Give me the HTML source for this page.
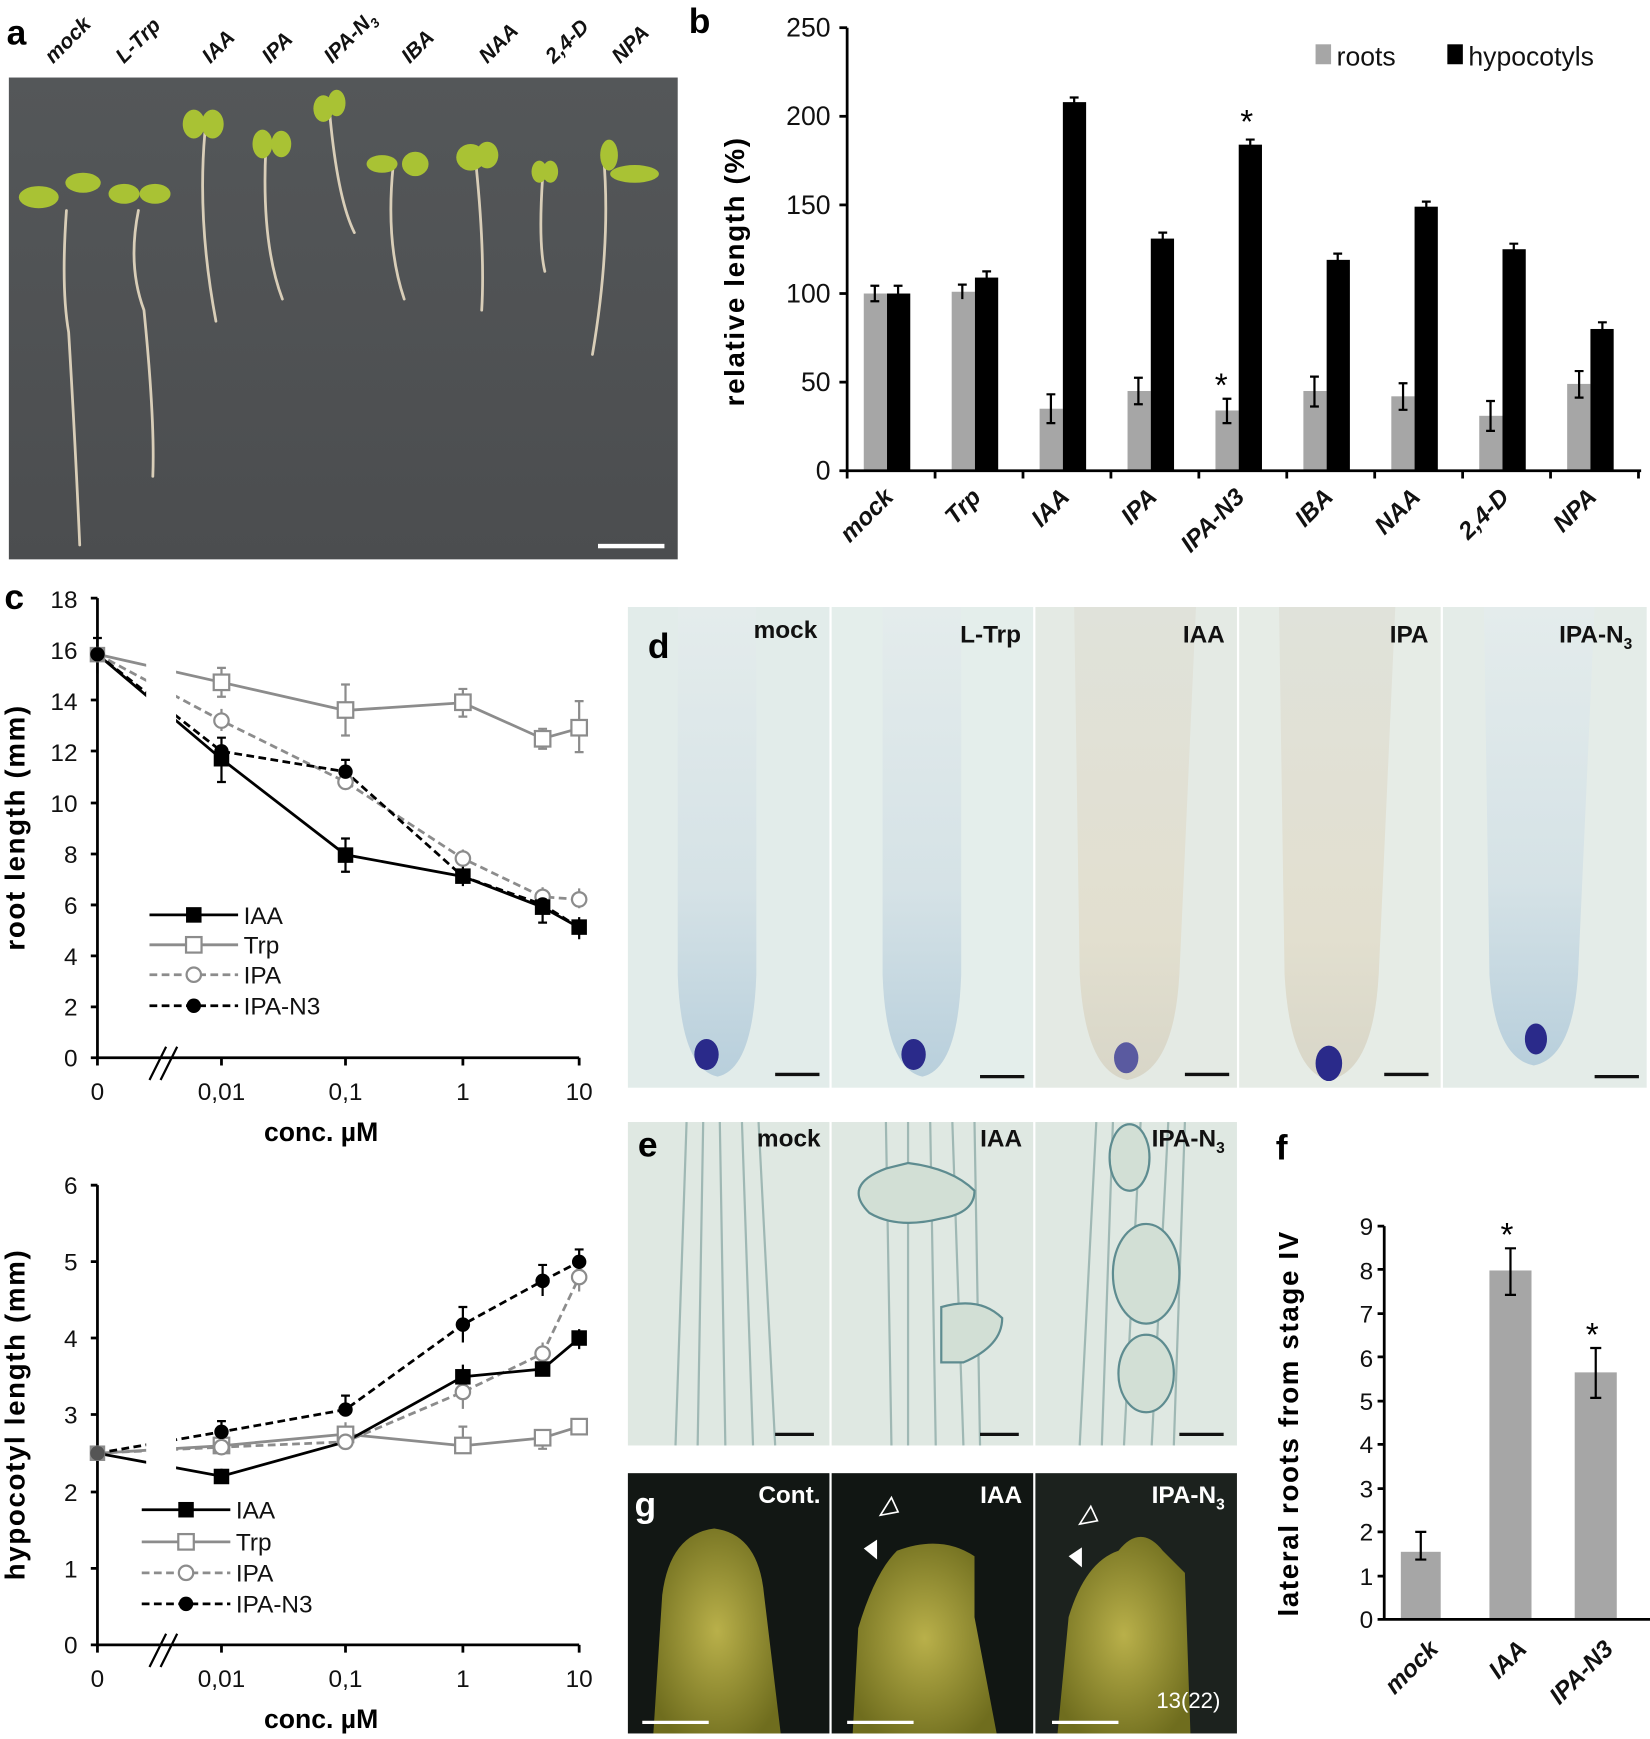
<!DOCTYPE html>
<html><head><meta charset="utf-8"><style>
html,body{margin:0;padding:0;background:#fff;}
svg{display:block;}
text{font-family:"Liberation Sans",Arial,sans-serif;}
.b{font-weight:bold;}
</style></head><body>
<svg width="1650" height="1739" viewBox="0 0 1490 1570" preserveAspectRatio="none" xmlns="http://www.w3.org/2000/svg">
<defs>
<linearGradient id="plate" x1="0" y1="0" x2="0" y2="1"><stop offset="0" stop-color="#545759"/><stop offset="1" stop-color="#4b4d4f"/></linearGradient>
<linearGradient id="rootd" x1="0" y1="0" x2="0" y2="1"><stop offset="0" stop-color="#e4ecec"/><stop offset="0.6" stop-color="#d5e2e6"/><stop offset="1" stop-color="#b8cfdc"/></linearGradient>
<linearGradient id="roott" x1="0" y1="0" x2="0" y2="1"><stop offset="0" stop-color="#e0e2da"/><stop offset="0.7" stop-color="#e2dfcf"/><stop offset="1" stop-color="#d8d6c8"/></linearGradient>
<radialGradient id="tipg" cx="0.5" cy="0.5" r="0.6"><stop offset="0" stop-color="#b9b04a"/><stop offset="1" stop-color="#6f6d1e"/></radialGradient>
</defs>

<!-- PANEL A -->
<text x="6" y="40" class="b" font-size="32">a</text>
<g class="b" font-size="19" fill="#111" font-style="italic">
<text transform="translate(48,58) rotate(-45)">mock</text>
<text transform="translate(112,58) rotate(-45)">L-Trp</text>
<text transform="translate(190,58) rotate(-45)">IAA</text>
<text transform="translate(244,58) rotate(-45)">IPA</text>
<text transform="translate(300,58) rotate(-45)">IPA-N<tspan font-size="12" dy="5">3</tspan></text>
<text transform="translate(370,58) rotate(-45)">IBA</text>
<text transform="translate(440,58) rotate(-45)">NAA</text>
<text transform="translate(500,58) rotate(-45)">2,4-D</text>
<text transform="translate(560,58) rotate(-45)">NPA</text>
</g>
<rect x="8" y="70" width="604" height="435" fill="url(#plate)"/>
<g stroke="#d9ceb8" fill="none" stroke-linecap="round">
<path d="M60 190 Q55 260 62 300 Q68 400 72 492" stroke-width="2.5"/>
<path d="M125 190 Q115 240 130 280 Q140 380 138 430" stroke-width="2.5"/>
<path d="M185 120 Q178 200 195 290" stroke-width="2.5"/>
<path d="M240 135 Q236 220 255 270" stroke-width="2.5"/>
<path d="M298 105 Q305 180 320 210" stroke-width="2.5"/>
<path d="M355 150 Q348 220 365 270" stroke-width="2.5"/>
<path d="M430 150 Q438 230 435 280" stroke-width="2.5"/>
<path d="M490 160 Q486 220 492 245" stroke-width="2.5"/>
<path d="M545 140 Q552 220 535 320" stroke-width="2.5"/>
</g>
<g fill="#a9c234">
<ellipse cx="35" cy="178" rx="18" ry="10"/><ellipse cx="75" cy="165" rx="16" ry="9"/>
<ellipse cx="112" cy="175" rx="14" ry="9"/><ellipse cx="140" cy="175" rx="14" ry="9"/>
<ellipse cx="175" cy="112" rx="10" ry="13"/><ellipse cx="192" cy="112" rx="10" ry="13"/>
<ellipse cx="237" cy="130" rx="9" ry="13"/><ellipse cx="254" cy="130" rx="9" ry="12"/>
<ellipse cx="292" cy="98" rx="9" ry="12"/><ellipse cx="304" cy="93" rx="8" ry="12"/>
<ellipse cx="345" cy="148" rx="14" ry="8"/><ellipse cx="375" cy="148" rx="12" ry="11"/>
<ellipse cx="425" cy="142" rx="13" ry="12"/><ellipse cx="440" cy="140" rx="10" ry="12"/>
<ellipse cx="487" cy="155" rx="7" ry="10"/><ellipse cx="497" cy="155" rx="7" ry="10"/>
<ellipse cx="573" cy="157" rx="22" ry="8"/><ellipse cx="550" cy="140" rx="8" ry="14"/>
</g>
<rect x="540" y="491" width="60" height="4" fill="#fff"/>

<!-- PANEL B -->
<text x="622" y="30" class="b" font-size="32">b</text>
<g font-size="24" fill="#111" text-anchor="end">
<text x="750" y="433">0</text><text x="750" y="353">50</text><text x="750" y="273">100</text>
<text x="750" y="193">150</text><text x="750" y="113">200</text><text x="750" y="33">250</text>
</g>
<text transform="translate(672,245) rotate(-90)" text-anchor="middle" class="b" font-size="25" letter-spacing="1.5">relative length (%)</text>
<g fill="#a6a6a6">
<rect x="780" y="265" width="21" height="160"/><rect x="859.4" y="263.4" width="21" height="161.6"/>
<rect x="938.8" y="369" width="21" height="56"/><rect x="1018.2" y="353" width="21" height="72"/>
<rect x="1097.6" y="370.6" width="21" height="54.4"/><rect x="1177" y="353" width="21" height="72"/>
<rect x="1256.4" y="357.8" width="21" height="67.2"/><rect x="1335.8" y="375.4" width="21" height="49.6"/>
<rect x="1415.2" y="346.6" width="21" height="78.4"/>
</g>
<g fill="#000">
<rect x="801" y="265" width="21" height="160"/><rect x="880.4" y="250.6" width="21" height="174.4"/>
<rect x="959.8" y="92.2" width="21" height="332.8"/><rect x="1039.2" y="215.4" width="21" height="209.6"/>
<rect x="1118.6" y="130.6" width="21" height="294.4"/><rect x="1198" y="234.6" width="21" height="190.4"/>
<rect x="1277.4" y="186.6" width="21" height="238.4"/><rect x="1356.8" y="225" width="21" height="200"/>
<rect x="1436.2" y="297" width="21" height="128"/>
</g>
<g stroke="#000" stroke-width="2" fill="none">
<path d="M790 258v14M786 258h8M786 272h8"/><path d="M811 258v14M807 258h8M807 272h8"/>
<path d="M869 257v13M865 257h8"/><path d="M891 245v8M887 245h8"/>
<path d="M949 356v26M945 356h8M945 382h8"/><path d="M970 88v6M966 88h8"/>
<path d="M1028 341v24M1024 341h8M1024 365h8"/><path d="M1050 210v8M1046 210h8"/>
<path d="M1108 360v22M1104 360h8M1104 382h8"/><path d="M1129 126v6M1125 126h8"/>
<path d="M1187 340v27M1183 340h8M1183 367h8"/><path d="M1208 229v8M1204 229h8"/>
<path d="M1267 346v24M1263 346h8M1263 370h8"/><path d="M1288 182v8M1284 182h8"/>
<path d="M1346 362v27M1342 362h8M1342 389h8"/><path d="M1367 220v8M1363 220h8"/>
<path d="M1426 335v24M1422 335h8M1422 359h8"/><path d="M1447 291v8M1443 291h8"/>
</g>
<g stroke="#000" stroke-width="2.5">
<line x1="765" y1="25" x2="765" y2="432"/><line x1="758" y1="25" x2="765" y2="25"/>
<line x1="758" y1="105" x2="765" y2="105"/><line x1="758" y1="185" x2="765" y2="185"/>
<line x1="758" y1="265" x2="765" y2="265"/><line x1="758" y1="345" x2="765" y2="345"/>
<line x1="758" y1="425" x2="1482" y2="425"/>
<path d="M844.4 425v7M923.8 425v7M1003.2 425v7M1082.6 425v7M1162 425v7M1241.4 425v7M1320.8 425v7M1400.2 425v7M1479.6 425v7"/>
</g>
<text x="1097" y="358" font-size="30" fill="#000">*</text>
<text x="1120" y="120" font-size="30" fill="#000">*</text>
<g class="b" font-size="22" fill="#111" font-style="italic" text-anchor="end">
<text transform="translate(808,450) rotate(-45)">mock</text>
<text transform="translate(887,450) rotate(-45)">Trp</text>
<text transform="translate(967,450) rotate(-45)">IAA</text>
<text transform="translate(1046,450) rotate(-45)">IPA</text>
<text transform="translate(1125,450) rotate(-45)">IPA-N3</text>
<text transform="translate(1205,450) rotate(-45)">IBA</text>
<text transform="translate(1284,450) rotate(-45)">NAA</text>
<text transform="translate(1364,450) rotate(-45)">2,4-D</text>
<text transform="translate(1443,450) rotate(-45)">NPA</text>
</g>
<rect x="1188" y="40" width="14" height="18" fill="#a6a6a6"/>
<text x="1207" y="59" font-size="24" fill="#111">roots</text>
<rect x="1307" y="40" width="14" height="18" fill="#000"/>
<text x="1326" y="59" font-size="24" fill="#111">hypocotyls</text>

<!-- PANEL C TOP -->
<text x="4" y="550" class="b" font-size="32">c</text>
<g font-size="22" fill="#111" text-anchor="end">
<text x="70" y="963">0</text><text x="70" y="917">2</text><text x="70" y="871">4</text><text x="70" y="825">6</text>
<text x="70" y="779">8</text><text x="70" y="733">10</text><text x="70" y="687">12</text><text x="70" y="641">14</text>
<text x="70" y="595">16</text><text x="70" y="549">18</text>
</g>
<text transform="translate(22,747) rotate(-90)" text-anchor="middle" class="b" font-size="25" letter-spacing="1.5">root length (mm)</text>
<g stroke="#000" stroke-width="2.5" fill="none">
<line x1="88" y1="540" x2="88" y2="962"/>
<path d="M82 540h6M82 586h6M82 632h6M82 678h6M82 725h6M82 771h6M82 817h6M82 863h6M82 909h6"/>
<line x1="82" y1="955" x2="523" y2="955"/>
<path d="M200 955v7M312 955v7M418 955v7M523 955v7"/>
</g>
<g fill="none" stroke-width="2.5">
<polyline points="88,590.7 200,616 312,641.4 418,634.5 490,666.8 523,657.5" stroke="#8c8c8c"/>
<polyline points="88,590.7 200,650.6 312,705.9 418,775.1 490,809.7 523,812" stroke="#8c8c8c" stroke-dasharray="7,4"/>
<polyline points="88,590.7 200,678.3 312,696.7 418,791.3 490,816.6 523,837.4" stroke="#000" stroke-dasharray="7,4"/>
<polyline points="88,590.7 200,685.2 312,771.7 418,791.3 490,819 523,837.4" stroke="#000"/>
</g>
<rect x="132" y="545" width="27" height="405" fill="#fff"/>
<g stroke="#000" stroke-width="2"><line x1="135" y1="975" x2="150" y2="945"/><line x1="145" y1="975" x2="160" y2="945"/></g>
<g stroke-width="2" fill="none">
<path d="M200 603v26M196 603h8M196 629h8M312 618v46M308 618h8M308 664h8M418 622v25M414 622h8M414 647h8M490 658v18M486 658h8M486 676h8M523 633v46M519 633h8M519 679h8" stroke="#8c8c8c"/>
<path d="M200 640v20M312 698v14M418 767v16M490 801v18M523 802v18" stroke="#8c8c8c"/>
<path d="M200 666v40M196 666h8M196 706h8M312 686v10M308 686h8M418 782v18M490 805v28M486 833h8M523 828v20M312 757v30M308 757h8M308 787h8" stroke="#000"/>
<path d="M88 576v32M84 576h8" stroke="#000"/>
</g>
<g>
<rect x="193" y="609" width="14" height="14" fill="#fff" stroke="#8c8c8c" stroke-width="2"/>
<rect x="305" y="634" width="14" height="14" fill="#fff" stroke="#8c8c8c" stroke-width="2"/>
<rect x="411" y="627" width="14" height="14" fill="#fff" stroke="#8c8c8c" stroke-width="2"/>
<rect x="483" y="660" width="14" height="14" fill="#fff" stroke="#8c8c8c" stroke-width="2"/>
<rect x="516" y="650" width="14" height="14" fill="#fff" stroke="#8c8c8c" stroke-width="2"/>
<circle cx="200" cy="650.6" r="6.5" fill="#fff" stroke="#8c8c8c" stroke-width="2"/>
<circle cx="312" cy="705.9" r="6.5" fill="#fff" stroke="#8c8c8c" stroke-width="2"/>
<circle cx="418" cy="775.1" r="6.5" fill="#fff" stroke="#8c8c8c" stroke-width="2"/>
<circle cx="490" cy="809.7" r="6.5" fill="#fff" stroke="#8c8c8c" stroke-width="2"/>
<circle cx="523" cy="812" r="6.5" fill="#fff" stroke="#8c8c8c" stroke-width="2"/>
<rect x="193" y="678" width="14" height="14"/><rect x="305" y="765" width="14" height="14"/>
<rect x="411" y="784" width="14" height="14"/><rect x="483" y="812" width="14" height="14"/><rect x="516" y="830" width="14" height="14"/>
<circle cx="200" cy="678.3" r="6.5"/><circle cx="312" cy="696.7" r="6.5"/><circle cx="418" cy="791.3" r="6.5"/>
<circle cx="490" cy="816.6" r="6.5"/><circle cx="523" cy="837.4" r="6.5"/>
<rect x="81" y="584" width="14" height="14" fill="#8c8c8c"/><circle cx="88" cy="590.7" r="6.5"/>
</g>
<g font-size="22" fill="#111" text-anchor="middle">
<text x="88" y="993">0</text><text x="200" y="993">0,01</text><text x="312" y="993">0,1</text><text x="418" y="993">1</text><text x="523" y="993">10</text>
</g>
<text x="290" y="1030" class="b" font-size="24" text-anchor="middle">conc. µM</text>
<g stroke-width="2.5">
<line x1="135" y1="826" x2="215" y2="826" stroke="#000"/><rect x="168" y="819" width="14" height="14"/>
<line x1="135" y1="853" x2="215" y2="853" stroke="#8c8c8c"/><rect x="168" y="846" width="14" height="14" fill="#fff" stroke="#8c8c8c" stroke-width="2"/>
<line x1="135" y1="880" x2="215" y2="880" stroke="#8c8c8c" stroke-dasharray="7,4"/><circle cx="175" cy="880" r="6.5" fill="#fff" stroke="#8c8c8c" stroke-width="2"/>
<line x1="135" y1="908" x2="215" y2="908" stroke="#000" stroke-dasharray="7,4"/><circle cx="175" cy="908" r="6.5"/>
</g>
<g font-size="22" fill="#111"><text x="220" y="834">IAA</text><text x="220" y="861">Trp</text><text x="220" y="888">IPA</text><text x="220" y="916">IPA-N3</text></g>

<!-- PANEL C BOTTOM -->
<g font-size="22" fill="#111" text-anchor="end">
<text x="70" y="1493">0</text><text x="70" y="1424">1</text><text x="70" y="1355">2</text><text x="70" y="1285">3</text>
<text x="70" y="1216">4</text><text x="70" y="1147">5</text><text x="70" y="1078">6</text>
</g>
<text transform="translate(22,1277) rotate(-90)" text-anchor="middle" class="b" font-size="25" letter-spacing="1.5">hypocotyl length (mm)</text>
<g stroke="#000" stroke-width="2.5" fill="none">
<line x1="88" y1="1070" x2="88" y2="1492"/>
<path d="M82 1070h6M82 1139h6M82 1208h6M82 1277h6M82 1347h6M82 1416h6"/>
<line x1="82" y1="1485" x2="523" y2="1485"/>
<path d="M200 1485v7M312 1485v7M418 1485v7M523 1485v7"/>
</g>
<g fill="none" stroke-width="2.5">
<polyline points="88,1312 200,1305.2 312,1294.8 418,1305.2 490,1298.2 523,1287.9" stroke="#8c8c8c"/>
<polyline points="88,1312 200,1306.5 312,1301.7 418,1256.7 490,1222.1 523,1153" stroke="#8c8c8c" stroke-dasharray="7,4"/>
<polyline points="88,1312 200,1292.7 312,1272.6 418,1195.9 490,1156.4 523,1139.2" stroke="#000" stroke-dasharray="7,4"/>
<polyline points="88,1312 200,1332.8 312,1301.7 418,1242.9 490,1236 523,1208.3" stroke="#000"/>
</g>
<rect x="132" y="1075" width="27" height="405" fill="#fff"/>
<g stroke="#000" stroke-width="2"><line x1="135" y1="1505" x2="150" y2="1475"/><line x1="145" y1="1505" x2="160" y2="1475"/></g>
<g stroke-width="2" fill="none">
<path d="M418 1288v22M414 1288h8M414 1310h8M490 1294v14M486 1308h8M312 1284v22M308 1306h8" stroke="#8c8c8c"/>
<path d="M418 1242v30M490 1212v20M523 1140v26" stroke="#8c8c8c"/>
<path d="M200 1283v16M196 1283h8M312 1260v14M308 1260h8M418 1180v32M414 1180h8M490 1142v28M486 1142h8M523 1128v22M519 1128h8M418 1232v20M523 1200v18M200 1326v12" stroke="#000"/>
</g>
<g>
<rect x="193" y="1298" width="14" height="14" fill="#fff" stroke="#8c8c8c" stroke-width="2"/>
<rect x="305" y="1288" width="14" height="14" fill="#fff" stroke="#8c8c8c" stroke-width="2"/>
<rect x="411" y="1298" width="14" height="14" fill="#fff" stroke="#8c8c8c" stroke-width="2"/>
<rect x="483" y="1291" width="14" height="14" fill="#fff" stroke="#8c8c8c" stroke-width="2"/>
<rect x="516" y="1281" width="14" height="14" fill="#fff" stroke="#8c8c8c" stroke-width="2"/>
<circle cx="200" cy="1306.5" r="6.5" fill="#fff" stroke="#8c8c8c" stroke-width="2"/>
<circle cx="312" cy="1301.7" r="6.5" fill="#fff" stroke="#8c8c8c" stroke-width="2"/>
<circle cx="418" cy="1256.7" r="6.5" fill="#fff" stroke="#8c8c8c" stroke-width="2"/>
<circle cx="490" cy="1222.1" r="6.5" fill="#fff" stroke="#8c8c8c" stroke-width="2"/>
<circle cx="523" cy="1153" r="6.5" fill="#fff" stroke="#8c8c8c" stroke-width="2"/>
<rect x="193" y="1326" width="14" height="14"/><rect x="411" y="1236" width="14" height="14"/>
<rect x="483" y="1229" width="14" height="14"/><rect x="516" y="1201" width="14" height="14"/>
<circle cx="200" cy="1292.7" r="6.5"/><circle cx="312" cy="1272.6" r="6.5"/><circle cx="418" cy="1195.9" r="6.5"/>
<circle cx="490" cy="1156.4" r="6.5"/><circle cx="523" cy="1139.2" r="6.5"/>
<rect x="81" y="1305" width="14" height="14" fill="#8c8c8c"/><circle cx="88" cy="1312" r="6.5" fill="#555"/>
</g>
<g font-size="22" fill="#111" text-anchor="middle">
<text x="88" y="1523">0</text><text x="200" y="1523">0,01</text><text x="312" y="1523">0,1</text><text x="418" y="1523">1</text><text x="523" y="1523">10</text>
</g>
<text x="290" y="1560" class="b" font-size="24" text-anchor="middle">conc. µM</text>
<g stroke-width="2.5">
<line x1="128" y1="1363" x2="208" y2="1363" stroke="#000"/><rect x="161" y="1356" width="14" height="14"/>
<line x1="128" y1="1392" x2="208" y2="1392" stroke="#8c8c8c"/><rect x="161" y="1385" width="14" height="14" fill="#fff" stroke="#8c8c8c" stroke-width="2"/>
<line x1="128" y1="1420" x2="208" y2="1420" stroke="#8c8c8c" stroke-dasharray="7,4"/><circle cx="168" cy="1420" r="6.5" fill="#fff" stroke="#8c8c8c" stroke-width="2"/>
<line x1="128" y1="1448" x2="208" y2="1448" stroke="#000" stroke-dasharray="7,4"/><circle cx="168" cy="1448" r="6.5"/>
</g>
<g font-size="22" fill="#111"><text x="213" y="1371">IAA</text><text x="213" y="1400">Trp</text><text x="213" y="1428">IPA</text><text x="213" y="1456">IPA-N3</text></g>

<!-- PANEL D -->
<g>
<rect x="567" y="548" width="182" height="434" fill="#e2ecea"/>
<rect x="751" y="548" width="182" height="434" fill="#e4eeeb"/>
<rect x="935" y="548" width="182" height="434" fill="#e4eae4"/>
<rect x="1119" y="548" width="182" height="434" fill="#e6ece6"/>
<rect x="1303" y="548" width="184" height="434" fill="#e4ece8"/>
</g>
<g>
<path d="M612 548 L612 880 Q615 965 648 972 Q680 965 683 880 L683 548Z" fill="url(#rootd)"/>
<path d="M797 548 L797 880 Q800 965 833 972 Q865 965 868 880 L868 548Z" fill="url(#rootd)"/>
<path d="M970 548 L975 880 Q980 968 1018 975 Q1060 968 1065 880 L1080 548Z" fill="url(#roott)"/>
<path d="M1155 548 L1160 880 Q1165 968 1200 975 Q1240 968 1245 880 L1260 548Z" fill="url(#roott)"/>
<path d="M1340 548 L1345 880 Q1350 955 1385 962 Q1420 955 1425 880 L1440 548Z" fill="url(#rootd)"/>
</g>
<g fill="#2a2a8a">
<ellipse cx="638" cy="952" rx="11" ry="14"/><ellipse cx="825" cy="952" rx="11" ry="14"/>
<ellipse cx="1017" cy="955" rx="11" ry="14" fill="#5a5aa0"/><ellipse cx="1200" cy="960" rx="12" ry="16"/>
<ellipse cx="1387" cy="938" rx="10" ry="14"/>
</g>
<g stroke="#111" stroke-width="3">
<line x1="700" y1="970" x2="740" y2="970"/><line x1="885" y1="972" x2="925" y2="972"/>
<line x1="1070" y1="970" x2="1110" y2="970"/><line x1="1250" y1="970" x2="1290" y2="970"/><line x1="1440" y1="972" x2="1480" y2="972"/>
</g>
<text x="585" y="594" class="b" font-size="32">d</text>
<g class="b" font-size="22" fill="#111" text-anchor="end">
<text x="738" y="576">mock</text><text x="922" y="580">L-Trp</text><text x="1106" y="580">IAA</text><text x="1290" y="580">IPA</text><text x="1474" y="580">IPA-N<tspan font-size="14" dy="6">3</tspan></text>
</g>

<!-- PANEL E -->
<rect x="567" y="1013" width="182" height="292" fill="#dfe8e2"/>
<rect x="751" y="1013" width="182" height="292" fill="#dfe8e2"/>
<rect x="935" y="1013" width="182" height="292" fill="#dfe8e2"/>
<g fill="none" stroke="#9fb8b4" stroke-width="2">
<path d="M620 1013 L610 1305 M635 1013 L630 1305 M650 1013 L655 1305 M670 1013 L680 1305 M685 1013 L700 1305"/>
<path d="M800 1013 L805 1305 M820 1013 L820 1305 M840 1013 L845 1305 M860 1013 L870 1305 M880 1013 L885 1305"/>
<path d="M990 1013 L975 1305 M1005 1013 L995 1305 M1030 1013 L1015 1305 M1055 1013 L1040 1305 M1070 1013 L1060 1305"/>
</g>
<g fill="#d2dfd5" stroke="#5e8c90" stroke-width="2">
<path d="M800 1055 Q760 1070 785 1095 Q810 1110 850 1100 Q880 1095 880 1075 Q860 1055 820 1050Z"/>
<path d="M850 1180 Q885 1170 905 1190 Q905 1215 870 1230 L850 1230Z"/>
<ellipse cx="1020" cy="1045" rx="18" ry="30"/><ellipse cx="1035" cy="1150" rx="30" ry="45"/><ellipse cx="1035" cy="1240" rx="25" ry="35"/>
</g>
<g stroke="#111" stroke-width="3">
<line x1="700" y1="1295" x2="735" y2="1295"/><line x1="885" y1="1295" x2="920" y2="1295"/><line x1="1065" y1="1295" x2="1105" y2="1295"/>
</g>
<text x="576" y="1044" class="b" font-size="32">e</text>
<g class="b" font-size="22" fill="#111" text-anchor="end">
<text x="741" y="1035">mock</text><text x="923" y="1035">IAA</text><text x="1106" y="1035">IPA-N<tspan font-size="14" dy="6">3</tspan></text>
</g>
<text x="1152" y="1047" class="b" font-size="32">f</text>

<!-- PANEL G -->
<rect x="567" y="1330" width="182" height="235" fill="#121714"/>
<rect x="751" y="1330" width="182" height="235" fill="#111613"/>
<rect x="935" y="1330" width="182" height="235" fill="#1c221e"/>
<path d="M590 1565 L598 1440 Q605 1385 645 1380 Q685 1385 690 1440 L705 1565Z" fill="url(#tipg)"/>
<path d="M770 1565 L775 1470 Q790 1420 810 1400 Q850 1385 880 1405 L880 1460 L900 1565Z" fill="url(#tipg)"/>
<path d="M955 1565 L965 1460 Q980 1410 1010 1400 Q1030 1375 1050 1400 L1070 1420 L1075 1565Z" fill="url(#tipg)"/>
<g fill="#fff"><path d="M780 1398 l12 -8 l0 18z"/><path d="M965 1405 l12 -8 l0 18z"/></g>
<g fill="none" stroke="#fff" stroke-width="1.5"><path d="M805 1352 l-10 16 l16 -3z"/><path d="M985 1360 l-10 16 l16 -3z"/></g>
<g stroke="#fff" stroke-width="3">
<line x1="580" y1="1555" x2="640" y2="1555"/><line x1="765" y1="1555" x2="825" y2="1555"/><line x1="950" y1="1555" x2="1010" y2="1555"/>
</g>
<text x="573" y="1369" class="b" font-size="32" fill="#fff">g</text>
<g class="b" font-size="22" fill="#fff" text-anchor="end">
<text x="741" y="1357">Cont.</text><text x="923" y="1357">IAA</text><text x="1106" y="1357">IPA-N<tspan font-size="14" dy="6">3</tspan></text>
</g>
<text x="1102" y="1542" font-size="20" fill="#fff" text-anchor="end">13(22)</text>

<!-- PANEL F -->
<g font-size="22" fill="#111" text-anchor="end">
<text x="1240" y="1470">0</text><text x="1240" y="1431">1</text><text x="1240" y="1391">2</text><text x="1240" y="1352">3</text>
<text x="1240" y="1312">4</text><text x="1240" y="1273">5</text><text x="1240" y="1234">6</text><text x="1240" y="1194">7</text>
<text x="1240" y="1155">8</text><text x="1240" y="1115">9</text>
</g>
<text transform="translate(1172,1285) rotate(-90)" text-anchor="middle" class="b" font-size="25" letter-spacing="1.5">lateral roots from stage IV</text>
<g fill="#a6a6a6">
<rect x="1265" y="1401" width="36" height="61"/><rect x="1345" y="1147" width="38" height="315"/><rect x="1422" y="1239" width="38" height="223"/>
</g>
<g stroke="#000" stroke-width="2">
<path d="M1283 1383v25M1278 1383h10M1278 1408h10"/>
<path d="M1364 1127v42M1359 1127h10M1359 1169h10"/>
<path d="M1441 1217v45M1436 1217h10M1436 1262h10"/>
</g>
<g stroke="#000" stroke-width="2.5">
<line x1="1250" y1="1107" x2="1250" y2="1462"/>
<path d="M1244 1107h6M1244 1146h6M1244 1186h6M1244 1225h6M1244 1265h6M1244 1304h6M1244 1344h6M1244 1383h6M1244 1423h6"/>
<line x1="1244" y1="1462" x2="1490" y2="1462"/>
</g>
<text x="1355" y="1125" font-size="30">*</text>
<text x="1432" y="1215" font-size="30">*</text>
<g class="b" font-size="22" fill="#111" font-style="italic" text-anchor="end">
<text transform="translate(1300,1490) rotate(-45)">mock</text>
<text transform="translate(1380,1490) rotate(-45)">IAA</text>
<text transform="translate(1458,1490) rotate(-45)">IPA-N3</text>
</g>
</svg>
</body></html>
